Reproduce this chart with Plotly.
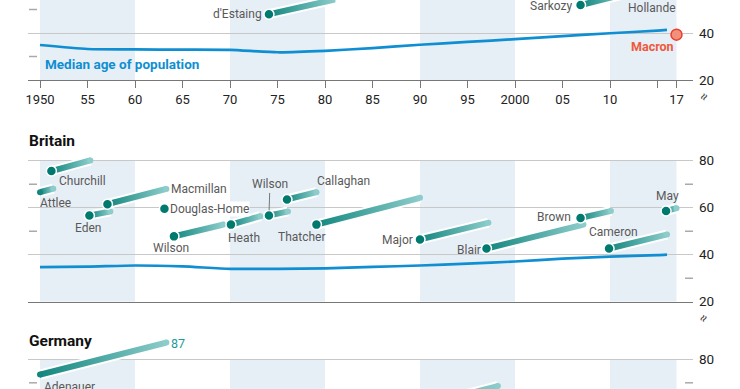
import math
import plotly.graph_objects as go

# ---------------- data ----------------
median_years = [1950, 1955, 1960, 1965, 1970, 1975, 1980, 1985, 1990, 1995, 2000, 2005, 2010, 2015, 2016]
france_median_age = [34.9, 33.2, 33.0, 32.9, 32.8, 31.8, 32.4, 33.6, 35.0, 36.2, 37.4, 38.7, 39.9, 41.0, 41.3]
britain_median_age = [34.7, 34.9, 35.4, 35.0, 34.0, 34.0, 34.2, 34.8, 35.4, 36.2, 37.1, 38.3, 39.2, 39.8, 40.0]

france_leaders = ["d'Estaing", "Sarkozy", "Hollande"]
france_start_year = [1974.1, 2006.9, 2012.0]
france_start_age = [48.0, 51.9, 57.6]
france_end_year = [1981.1, 2012.0, 2017.0]
france_end_age = [54.3, 57.0, 62.5]

macron_year = [2017.0]
macron_age = [39.3]

britain_leaders = ["Attlee", "Churchill", "Eden", "Macmillan", "Douglas-Home", "Wilson", "Heath",
                   "Wilson", "Callaghan", "Thatcher", "Major", "Blair", "Brown", "Cameron", "May"]
britain_start_year = [1950.0, 1951.2, 1955.2, 1957.1, 1963.1, 1964.1, 1970.1,
                      1974.1, 1976.0, 1979.1, 1990.0, 1997.0, 2006.9, 2009.9, 2015.9]
britain_start_age = [66.6, 75.6, 56.7, 61.5, 59.6, 47.8, 52.8,
                     56.7, 63.5, 52.8, 46.5, 42.6, 55.6, 42.6, 58.6]
britain_end_year = [1951.4, 1955.3, 1957.4, 1963.3, 1963.1, 1969.3, 1973.2,
                    1976.1, 1979.1, 1990.0, 1997.2, 2007.2, 2010.1, 2016.0, 2017.0]
britain_end_age = [68.1, 80.1, 58.4, 68.0, 59.6, 52.8, 56.4,
                   58.4, 66.6, 64.2, 53.6, 52.8, 58.6, 48.6, 59.8]

germany_leaders = ["Adenauer", "Kohl"]
germany_start_year = [1950.0, 1982.8]
germany_start_age = [73.5, 52.6]
germany_end_year = [1963.3, 1998.2]
germany_end_age = [87.1, 68.6]

shade_start = [1950, 1970, 1990, 2010]
shade_end = [1960, 1980, 2000, 2017]

x_tick_vals = [1950, 1955, 1960, 1965, 1970, 1975, 1980, 1985, 1990, 1995, 2000, 2005, 2010, 2015, 2017]
x_tick_text = ["1950", "55", "60", "65", "70", "75", "80", "85", "90", "95", "2000", "05", "10", "", "17"]
y_tick_vals = [20, 40, 60, 80]

# ---------------- layout constants ----------------
W, H = 740, 389
FONT = "Roboto, 'Open Sans', sans-serif"
PX_PER_YEAR = 9.5
PX_PER_UNIT = 2.35
X_LEFT_PX, X_RIGHT_PX, X1950_PX = 28, 693, 40
x_range = [1950 - (X1950_PX - X_LEFT_PX) / PX_PER_YEAR, 1950 + (X_RIGHT_PX - X1950_PX) / PX_PER_YEAR]
x_domain = [X_LEFT_PX / W, X_RIGHT_PX / W]

# panel: (top px, bottom px, reference value, reference px)
panels = {
    "fr": (0, 80, 20, 80),
    "uk": (150, 301.7, 20, 301.7),
    "de": (335, 389, 80, 359.3),
}
title_px = {"uk": 141, "de": 341}


def panel_axes(key):
    top, bot, ref_v, ref_p = panels[key]
    lo = ref_v - (bot - ref_p) / PX_PER_UNIT
    hi = ref_v + (ref_p - top) / PX_PER_UNIT
    return [1 - bot / H, 1 - top / H], [lo, hi]


DARK = "#13877f"
LIGHT = "#8ccccb"
DOT = "#00796f"
BLUE = "#0f8fd2"
BAND = "#e7eff6"
GRID = "#c8c8c8"
LABEL = "#595959"

fig = go.Figure()

refs = {"fr": ("x", "y"), "uk": ("x2", "y2"), "de": ("x3", "y3")}

# shading bands
band_limits = {"fr": (20, None), "uk": (20, 80), "de": (None, 80)}
for key, (xr, yr) in refs.items():
    dom, rng = panel_axes(key)
    lo_b, hi_b = band_limits[key]
    y0 = lo_b if lo_b is not None else rng[0]
    y1 = hi_b if hi_b is not None else rng[1]
    for s, e in zip(shade_start, shade_end):
        fig.add_shape(type="rect", xref=xr, yref=yr, x0=s, x1=e, y0=y0, y1=y1,
                      fillcolor=BAND, line=dict(width=0), layer="below")

# median age lines
for key, vals in (("fr", france_median_age), ("uk", britain_median_age)):
    xr, yr = refs[key]
    fig.add_trace(go.Scatter(x=median_years, y=vals, mode="lines", xaxis=xr, yaxis=yr,
                             line=dict(color=BLUE, width=2.7, shape="spline", smoothing=0.6),
                             hoverinfo="skip", showlegend=False, cliponaxis=True))


def add_leader(key, x0, y0, x1, y1, dot=True, thickness=6):
    xr, yr = refs[key]
    if x1 != x0:
        slope = ((y1 - y0) * PX_PER_UNIT) / ((x1 - x0) * PX_PER_YEAR)
        h = thickness / 2 * math.sqrt(1 + slope ** 2) / PX_PER_UNIT
        fig.add_trace(go.Scatter(x=[x0, x1], y=[y0, y1], mode="lines", xaxis=xr, yaxis=yr,
                                 line=dict(color="white", width=thickness + 4),
                                 hoverinfo="skip", showlegend=False))
        fig.add_trace(go.Scatter(x=[x0, x1, x1, x0, x0], y=[y0 + h, y1 + h, y1 - h, y0 - h, y0 + h],
                                 mode="lines", fill="toself", xaxis=xr, yaxis=yr,
                                 line=dict(width=0, color=LIGHT),
                                 fillgradient=dict(type="horizontal", colorscale=[[0, DARK], [1, LIGHT]]),
                                 hoverinfo="skip", showlegend=False))
        fig.add_trace(go.Scatter(x=[x1], y=[y1], mode="markers", xaxis=xr, yaxis=yr,
                                 marker=dict(size=thickness, color=LIGHT, line=dict(width=0)),
                                 hoverinfo="skip", showlegend=False))
    if dot:
        fig.add_trace(go.Scatter(x=[x0], y=[y0], mode="markers", xaxis=xr, yaxis=yr,
                                 marker=dict(size=10, color=DOT, line=dict(width=1.5, color="white")),
                                 hoverinfo="skip", showlegend=False))
    else:
        fig.add_trace(go.Scatter(x=[x0], y=[y0], mode="markers", xaxis=xr, yaxis=yr,
                                 marker=dict(size=thickness, color=DARK, line=dict(width=0)),
                                 hoverinfo="skip", showlegend=False))


for i in range(len(france_leaders)):
    add_leader("fr", france_start_year[i], france_start_age[i], france_end_year[i], france_end_age[i])
for i in range(len(britain_leaders)):
    add_leader("uk", britain_start_year[i], britain_start_age[i], britain_end_year[i], britain_end_age[i],
               dot=britain_start_year[i] > 1950)
for i in range(len(germany_leaders)):
    add_leader("de", germany_start_year[i], germany_start_age[i], germany_end_year[i], germany_end_age[i],
               dot=germany_start_year[i] > 1950)

# Macron
fig.add_trace(go.Scatter(x=macron_year, y=macron_age, mode="markers", xaxis="x", yaxis="y",
                         marker=dict(size=11, color="#f2907c", line=dict(width=1.5, color="#e8402d")),
                         hoverinfo="skip", showlegend=False, cliponaxis=False))

# ---------------- labels ----------------
# (anchor: 's' start / 'e' end, xanchor, xshift, yshift)
uk_label_style = [
    ("s", "left", -1, -11), ("s", "left", 7, -9.5), ("s", "center", -1, -13), ("e", "left", 4, 0),
    ("s", "left", 5, 0), ("s", "center", -3, -12), ("s", "left", -4, -13), None,
    ("e", "left", 0, 11), ("s", "center", -14, -12), ("s", "right", -6, -1), ("s", "right", -5, -1),
    ("s", "right", -9, 1.5), ("s", "center", 4, 17), ("s", "center", 1, 15),
]
for i, st in enumerate(uk_label_style):
    if st is None:
        continue
    where, xa, xs, ys = st
    x = britain_start_year[i] if where == "s" else britain_end_year[i]
    y = britain_start_age[i] if where == "s" else britain_end_age[i]
    fig.add_annotation(x=x, y=y, xref="x2", yref="y2", text=britain_leaders[i], showarrow=False,
                       xanchor=xa, yanchor="middle", xshift=xs, yshift=ys,
                       bgcolor="white" if britain_leaders[i] == "Douglas-Home" else None,
                       borderpad=0, font=dict(family=FONT, size=12, color=LABEL))
# second Wilson term, with leader line
fig.add_annotation(x=britain_start_year[7], y=britain_start_age[7], xref="x2", yref="y2",
                   text=britain_leaders[7], showarrow=True, arrowhead=0, ax=1, ay=-31, standoff=5,
                   arrowcolor="#777", arrowwidth=1, font=dict(family=FONT, size=12, color=LABEL))

fig.add_annotation(x=france_start_year[0], y=france_start_age[0], xref="x", yref="y", text=france_leaders[0],
                   showarrow=False, xanchor="right", xshift=-5, font=dict(family=FONT, size=12, color=LABEL))
fig.add_annotation(x=france_start_year[1], y=france_start_age[1], xref="x", yref="y", text=france_leaders[1],
                   showarrow=False, xanchor="right", xshift=-6, yshift=-1, font=dict(family=FONT, size=12, color=LABEL))
HOLLANDE_LABEL_AGE = 50.6
fig.add_annotation(x=france_start_year[2], y=HOLLANDE_LABEL_AGE, xref="x", yref="y", text=france_leaders[2],
                   showarrow=False, xanchor="left", xshift=-3, font=dict(family=FONT, size=12, color=LABEL))
fig.add_annotation(x=macron_year[0], y=macron_age[0], xref="x", yref="y", text="<b>Macron</b>",
                   showarrow=False, xanchor="right", xshift=-1, yshift=-12,
                   font=dict(family=FONT, size=12.5, color="#ee5a3c"))
MEDIAN_LABEL_AGE = 26.8
fig.add_annotation(x=1950, y=MEDIAN_LABEL_AGE, xref="x", yref="y", text="<b>Median age of population</b>",
                   showarrow=False, xanchor="left", xshift=3, font=dict(family=FONT, size=13.5, color=BLUE))

fig.add_annotation(x=germany_end_year[0], y=germany_end_age[0], xref="x3", yref="y3",
                   text=str(int(germany_end_age[0])), showarrow=False, xanchor="left", xshift=3, yshift=-1,
                   font=dict(family=FONT, size=12.5, color="#229b97"))
fig.add_annotation(x=germany_start_year[0], y=germany_start_age[0], xref="x3", yref="y3",
                   text=germany_leaders[0], showarrow=False, xanchor="left", xshift=2, yshift=-12,
                   font=dict(family=FONT, size=12, color=LABEL))

# panel titles
for key, title in (("uk", "Britain"), ("de", "Germany")):
    fig.add_annotation(x=27 / W, y=1 - title_px[key] / H, xref="paper", yref="paper", text=f"<b>{title}</b>",
                       showarrow=False, xanchor="left", yanchor="middle",
                       font=dict(family=FONT, size=15.5, color="#111"))

# axis-break marks
for key in ("fr", "uk"):
    xr, yr = refs[key]
    fig.add_annotation(x=703 / W, y=20, xref="paper", yref=yr, text="≈", textangle=-60, showarrow=False,
                       xanchor="center", yanchor="middle", yshift=-17,
                       font=dict(family=FONT, size=13, color="#444"))

# minor ticks (left, right)
minor_ticks = {"fr": ([30, 50], []), "uk": ([70, 50], [70, 50, 30]), "de": ([70], [70])}
for key, (left_vals, right_vals) in minor_ticks.items():
    xr, yr = refs[key]
    for v in left_vals:
        fig.add_shape(type="line", xref=f"{xr} domain", yref=yr, x0=1 / 665, x1=9 / 665, y0=v, y1=v,
                      line=dict(color="#aaa", width=1.5))
    for v in right_vals:
        fig.add_shape(type="line", xref=f"{xr} domain", yref=yr, x0=657 / 665, x1=1, y0=v, y1=v,
                      line=dict(color="#aaa", width=1.5))

# ---------------- axes ----------------
layout = dict(width=W, height=H, margin=dict(l=0, r=0, t=0, b=0), plot_bgcolor="white",
              paper_bgcolor="white", showlegend=False, font=dict(family=FONT))
for n, key in enumerate(("fr", "uk", "de"), start=1):
    dom, rng = panel_axes(key)
    sfx = "" if n == 1 else str(n)
    layout[f"xaxis{sfx}"] = dict(
        domain=x_domain, range=x_range, anchor=f"y{sfx}", automargin=False, showgrid=False, zeroline=False,
        showline=(key != "de"), linecolor="#777", linewidth=1.3,
        ticks="outside" if key == "fr" else "", ticklen=7, tickcolor="#777", tickwidth=1.2,
        tickvals=x_tick_vals, ticktext=x_tick_text, showticklabels=(key == "fr"),
        tickfont=dict(family=FONT, size=13, color="#222"),
    )
    layout[f"yaxis{sfx}"] = dict(
        domain=dom, range=rng, anchor=f"x{sfx}", side="right", automargin=False,
        tickvals=y_tick_vals, showgrid=True, gridcolor=GRID, gridwidth=1.2, zeroline=False,
        showline=False, ticks="", ticklabelstandoff=5,
        tickfont=dict(family=FONT, size=13.5, color="#222"),
    )
fig.update_layout(**layout)

fig.write_html("out.html", config={"displayModeBar": False},
               post_script="document.body.style.margin='0';document.body.style.overflow='hidden';")
